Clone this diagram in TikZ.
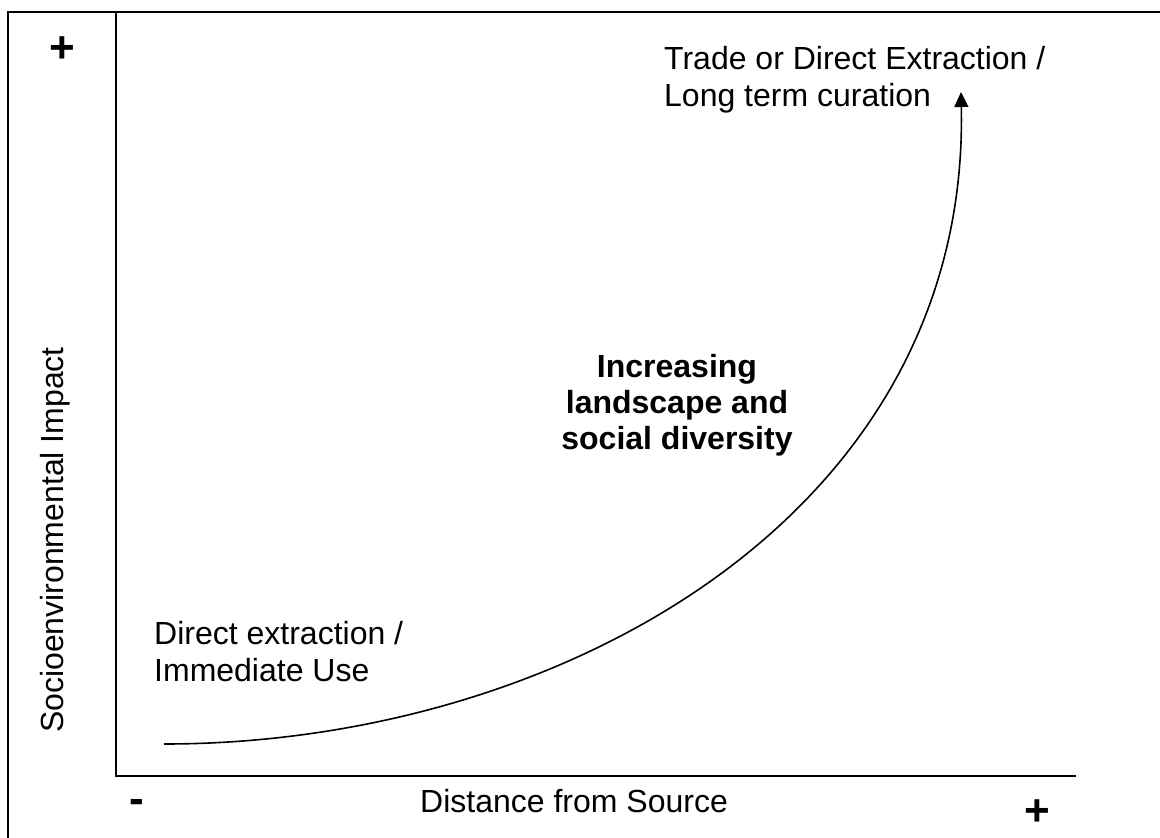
\documentclass[tikz,border=0pt]{standalone}
\usepackage{fontspec}
\setmainfont{Liberation Sans}
\usetikzlibrary{arrows.meta}
\tikzset{
  frameline/.style={line width=2pt, black},
  axisline/.style={line width=2pt, black},
  curveline/.style={line width=1.6pt, black, -{Triangle[length=15pt,width=14pt]}},
  lbl/.style={inner sep=0pt, font=\fontsize{32}{36.5}\selectfont, align=left},
  boldlbl/.style={inner sep=0pt, font=\fontsize{32}{36}\selectfont\bfseries, align=center},
  signlbl/.style={inner sep=0pt, font=\fontsize{44}{48}\selectfont\bfseries}
}
\begin{document}
\begin{tikzpicture}[x=1pt,y=-1pt]
\useasboundingbox (0,0) rectangle (1160,838);
\clip (0,0) rectangle (1160,838);
\fill[white] (0,0) rectangle (1160,838);
% outer frame (right and bottom edges fall outside the picture)
\draw[frameline] (8,12) rectangle (1200,880);
% axes
\coordinate (origin) at (116,775.5);
\coordinate (ytop) at (116,12);
\coordinate (xend) at (1076,775.5);
\draw[axisline] (ytop) -- (origin) -- (xend);
% signs
\node[signlbl] (yplus) at (62,50) {+};
\node[signlbl, anchor=base] (xminus) at (137,813) {-};
\node[signlbl] (xplus) at (1037,813) {+};
% axis labels
\node[lbl, anchor=base west] (xlabel) at (420,812.7) {Distance from Source};
\node[lbl, anchor=base, rotate=90] (ylabel) at (63,540) {Socioenvironmental Impact};
% curve labels
\node[lbl, anchor=north west] (low) at (154,621.5) {Direct extraction /\\Immediate Use};
\node[lbl, anchor=north west] (high) at (664,46.5) {Trade or Direct Extraction /\\Long term curation};
\node[boldlbl, anchor=north] (mid) at (677,354) {Increasing\\landscape and\\social diversity};
% curve
\coordinate (cstart) at (164,744);
\coordinate (ctip) at (961,92);
\draw[curveline] (cstart) .. controls (560,744) and (970,515) .. (ctip);
\end{tikzpicture}
\end{document}
